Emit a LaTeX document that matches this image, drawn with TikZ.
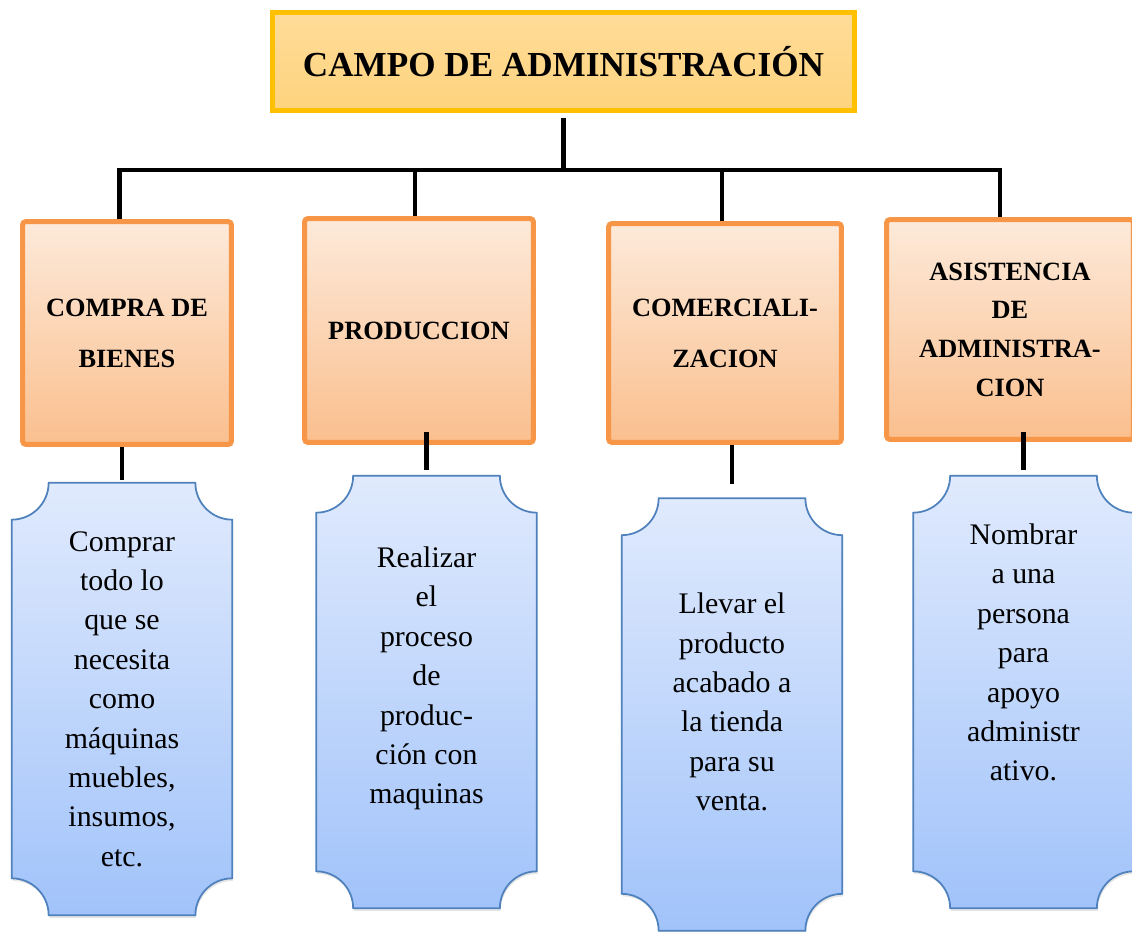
\documentclass[tikz,border=0pt]{standalone}
\usepackage{fontspec}
\setmainfont{Liberation Serif}
\usepackage{xcolor}
\usepackage{tikz}
\usetikzlibrary{arrows,positioning,shapes,shadows}

\definecolor{goldline}{RGB}{255,192,0}
\definecolor{goldtop}{RGB}{255,220,152}
\definecolor{goldbot}{RGB}{254,211,126}
\definecolor{orangeline}{RGB}{247,150,70}
\definecolor{orangetop}{RGB}{253,234,218}
\definecolor{orangebot}{RGB}{250,191,142}
\definecolor{blueline}{RGB}{79,129,189}
\definecolor{bluetop}{RGB}{224,234,253}
\definecolor{bluebot}{RGB}{161,195,250}

\newlength{\plaquer}
\setlength{\plaquer}{0.74cm}
% plaque outline with hollow corners round a holder node
\newcommand{\drawplaque}[1]{%
    \draw [plaqueline] ([xshift=\plaquer]#1.north west) -- ([xshift=-\plaquer]#1.north east)
        arc[start angle=180, end angle=270, radius=\plaquer] -- ([yshift=\plaquer]#1.south east)
        arc[start angle=90, end angle=180, radius=\plaquer] -- ([xshift=\plaquer]#1.south west)
        arc[start angle=0, end angle=90, radius=\plaquer] -- ([yshift=-\plaquer]#1.north west)
        arc[start angle=270, end angle=360, radius=\plaquer] -- cycle;}

\begin{document}
\begin{tikzpicture}[x=0.02cm, y=-0.02cm]
    % Define styles
    \tikzstyle{titlebox} = [rectangle, draw=goldline, line width=0.1cm, top color=goldtop, bottom color=goldbot, minimum width=11.64cm, minimum height=1.96cm, font=\bfseries\fontsize{20}{24}\selectfont]
    \tikzstyle{area} = [rectangle, draw=orangeline, line width=0.1cm, rounded corners=2pt, top color=orangetop, bottom color=orangebot, align=center, font=\bfseries\fontsize{15}{29}\selectfont, drop shadow={opacity=0.2, shadow xshift=0.5pt, shadow yshift=-1.5pt}]
    \tikzstyle{holder} = [rectangle, minimum width=4.4cm, minimum height=8.64cm, inner sep=0pt]
    \tikzstyle{plaqueline} = [draw=blueline, line width=1pt, top color=bluetop, bottom color=bluebot, drop shadow={opacity=0.2, shadow xshift=0.5pt, shadow yshift=-1.5pt}]
    \tikzstyle{desc} = [align=center, font=\fontsize{17}{22.4}\selectfont]
    \tikzstyle{link} = [line width=2.8pt]

    \useasboundingbox (0,0) rectangle (1132,932);

    % Nodes
    \node [titlebox] (title) at (563.5,61.5) {CAMPO DE ADMINISTRACIÓN};
    \node [area, minimum width=4.18cm, minimum height=4.46cm] (compra) at (127,333) {COMPRA DE\\BIENES};
    \node [area, minimum width=4.58cm, minimum height=4.48cm] (produccion) at (419,330.5) {PRODUCCION};
    \node [area, minimum width=4.66cm, minimum height=4.38cm] (comercial) at (725,333) {COMERCIALI-\\ZACION};
    \node [area, minimum width=4.94cm, minimum height=4.40cm, font=\bfseries\fontsize{15}{22}\selectfont] (asistencia) at (1010,329.5) {ASISTENCIA\\DE\\ADMINISTRA-\\CION};

    % Plaques
    \node [holder] (d1) at (122,699) {};
    \node [holder] (d2) at (426.5,692) {};
    \node [holder] (d3) at (732,714.5) {};
    \node [holder] (d4) at (1023.5,692) {};
    \drawplaque{d1}
    \drawplaque{d2}
    \drawplaque{d3}
    \drawplaque{d4}

    \node [desc] (t1) at (d1.center) {Comprar\\todo lo\\que se\\necesita\\como\\máquinas\\muebles,\\insumos,\\etc.};
    \node [desc] (t2) at ([yshift=0.27cm]d2.center) {Realizar\\el\\proceso\\de\\produc-\\ción con\\maquinas};
    \node [desc] (t3) at ([yshift=0.25cm]d3.center) {Llevar el\\producto\\acabado a\\la tienda\\para su\\venta.};
    \node [desc] (t4) at ([yshift=0.79cm]d4.center) {Nombrar\\a una\\persona\\para\\apoyo\\administr\\ativo.};

    % Lines
    \coordinate (bar) at (563.5,170);
    \draw [link] ([yshift=-0.1cm]title.south) -- (bar);
    \draw [link] ([xshift=-0.15cm]compra.north) |- (bar) -| ([xshift=-0.2cm]asistencia.north);
    \draw [link] ([xshift=-0.08cm]produccion.north) |- (bar);
    \draw [link] ([xshift=-0.06cm]comercial.north) |- (bar);

    \draw [link, shorten >=0.06cm] (d1.north |- compra.south) -- (d1.north);
    \draw [link, shorten <=-0.25cm, shorten >=0.12cm] (d2.north |- produccion.south) -- (d2.north);
    \draw [link, shorten >=0.28cm] (d3.north |- comercial.south) -- (d3.north);
    \draw [link, shorten <=-0.19cm, shorten >=0.12cm] (d4.north |- asistencia.south) -- (d4.north);

\end{tikzpicture}
\end{document}
